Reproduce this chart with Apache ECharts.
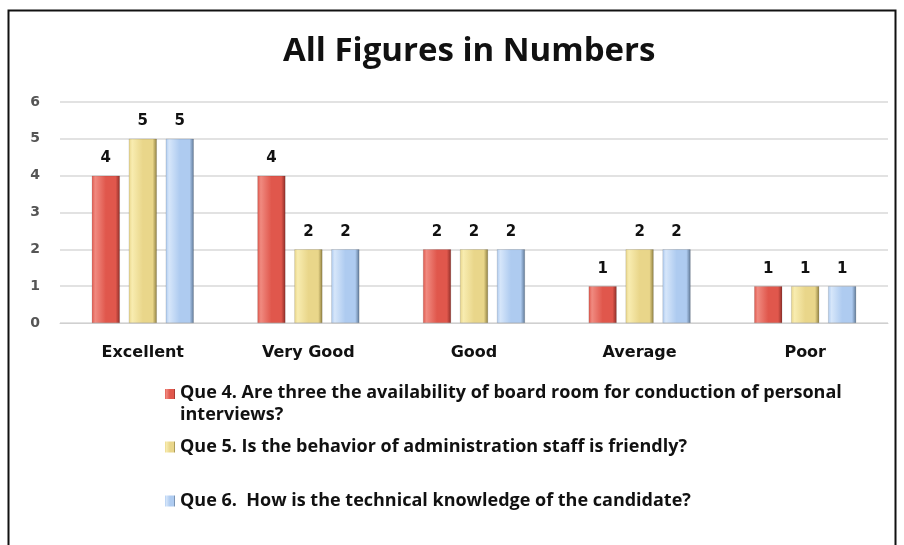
<!DOCTYPE html>
<html><head><meta charset="utf-8">
<script src="https://cdn.jsdelivr.net/npm/echarts@6/dist/echarts.min.js"></script>
<style>html,body{margin:0;padding:0;background:#fff}#c{width:904px;height:545px}</style>
</head><body><div id="c"></div>
<script>
const categories = ['Excellent','Very Good','Good','Average','Poor'];
const seriesNames = [
  'Que 4. Are three the availability of board room for conduction of personal\ninterviews?',
  'Que 5. Is the behavior of administration staff is friendly?',
  'Que 6.  How is the technical knowledge of the candidate?'
];
const que4 = [4,4,2,1,1];
const que5 = [5,2,2,2,1];
const que6 = [5,2,2,2,1];
const yTicks = [0,1,2,3,4,5,6];

function grad(light, mid, dark){
  return {type:'linear',x:0,y:0,x2:1,y2:0,colorStops:[
    {offset:0,color:mid},{offset:0.12,color:light},{offset:0.5,color:mid},{offset:0.85,color:mid},{offset:1,color:dark}]};
}
const styles = [
  grad('#F08A80','#E0574C','#8E2E28'),
  grad('#F8ECB0','#E9D68A','#8F7F40'),
  grad('#D6E6FA','#AECBF0','#5F7896')
];
const legendColors = ['#D9463C','#D8C470','#8FB0DA'];
const iconTop = 'path://M0,0h10v10h-10z M0,30h0.001v0.001h-0.001z';

const chart = echarts.init(document.getElementById('c'));
const dataArr = [que4,que5,que6];
const legendTops = [377, 431, 485];
const labelFont = 'DejaVu Sans, Verdana, sans-serif';
chart.setOption({
  animation:false,
  title:{text:'All Figures in Numbers',left:278,top:30,
    textStyle:{fontFamily:'Open Sans, sans-serif',fontSize:33,fontWeight:'bold',color:'#111'}},
  grid:{left:60,right:16,top:102,bottom:222,containLabel:false},
  xAxis:{type:'category',data:categories,
    axisLine:{lineStyle:{color:'#d0d0d0'}},axisTick:{show:false},
    axisLabel:{color:'#111',fontFamily:labelFont,fontWeight:'bold',fontSize:16,margin:22}},
  yAxis:{type:'value',min:0,max:6,interval:1,
    axisLine:{show:false},axisTick:{show:false},
    splitLine:{lineStyle:{color:'#d9d9d9',width:1.5}},
    axisLabel:{color:'#555',fontFamily:labelFont,fontWeight:'bold',fontSize:14,margin:20}},
  legend: seriesNames.map((n,i)=>({
    data:[n],left:160,top:legendTops[i],orient:'vertical',itemWidth:10,itemHeight:i===0?32:11,
    icon:i===0?iconTop:'rect',itemGap:0,itemStyle:{borderWidth:0},
    textStyle:{fontFamily:'Open Sans, sans-serif',fontSize:18,fontWeight:'bold',color:'#111',lineHeight:22}
  })),
  series: seriesNames.map((n,i)=>({
    name:n,type:'bar',data:dataArr[i],barWidth:28,barGap:'32%',
    color:legendColors[i],
    itemStyle:{color:styles[i],borderColor:'rgba(0,0,0,0.25)',borderWidth:0.5},
    label:{show:true,position:'top',distance:10,color:'#111',fontWeight:'bold',fontSize:15,fontFamily:labelFont}
  })),
  graphic:[{type:'rect',shape:{x:8.5,y:10.5,width:887,height:560},style:{fill:'none',stroke:'#111',lineWidth:2},silent:true}]
});
</script></body></html>
